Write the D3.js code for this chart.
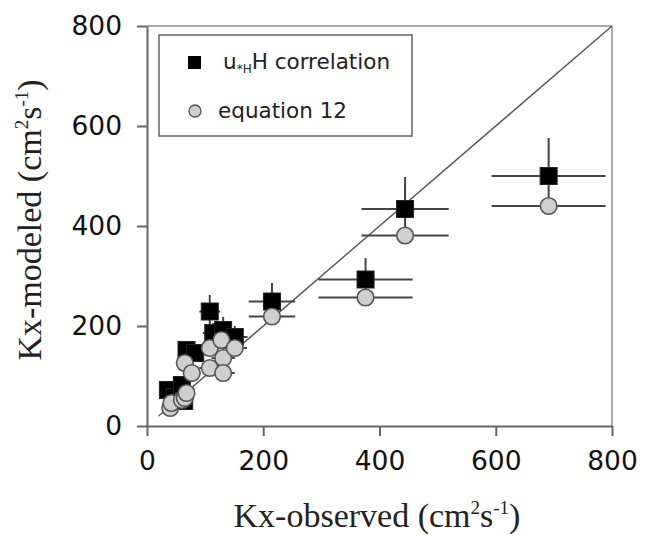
<!DOCTYPE html>
<html>
<head>
<meta charset="utf-8">
<script src="https://cdn.jsdelivr.net/npm/d3@7"></script>
<style>
  body { margin: 0; background: #fff; }
</style>
</head>
<body>
<script>
// ticks
var xTicks = [0, 200, 400, 600, 800]
var yTicks = [0, 200, 400, 600, 800]

// u*H H correlation (squares)
var corrX    = [36, 48, 60, 64, 68, 83, 108, 114, 131, 151, 215, 376, 444, 691]
var corrY    = [72, 58, 82, 50, 152, 146, 229, 186, 192, 178, 249, 293, 434, 500]
var corrXErr = [10, 10, 12, 10, 15, 15, 18, 18, 20, 22, 40, 81, 75, 98]
var corrYErr = [12, 10, 12, 10, 17, 15, 33, 20, 26, 22, 37, 43, 64, 76]

// equation 12 (circles)
var eqX    = [40, 42, 60, 65, 68, 65, 77, 108, 108, 128, 131, 131, 151, 215, 376, 444, 691]
var eqY    = [36, 46, 52, 56, 66, 126, 106, 156, 116, 172, 136, 106, 156, 219, 257, 381, 440]
var eqXErr = [8, 10, 12, 12, 12, 15, 15, 18, 18, 20, 20, 20, 21, 40, 81, 75, 98]

// 1:1 line
var lineX = [20, 800]

var axisColor = '#666'
var barColor = '#444'
var sansFont = '"DejaVu Sans", sans-serif'
var serifFont = '"Liberation Serif", "Times New Roman", serif'

const svg = d3.select('body').append('svg')
    .attr('width', 648)
    .attr('height', 537)

var x = d3.scaleLinear().domain([0, 800]).range([147, 612])
var y = d3.scaleLinear().domain([0, 800]).range([426, 26])

// frame top / right
svg.append('line')
    .attr('x1', x(0)).attr('y1', y(800))
    .attr('x2', x(800)).attr('y2', y(800))
    .attr('stroke', '#aaa').attr('stroke-width', 2)
svg.append('line')
    .attr('x1', x(800)).attr('y1', y(800))
    .attr('x2', x(800)).attr('y2', y(0))
    .attr('stroke', '#aaa').attr('stroke-width', 2)

// axes
var xAxis = svg.append('g')
    .attr('transform', 'translate(0,' + y(0) + ')')
    .call(d3.axisBottom(x).tickValues(xTicks).tickSize(10).tickPadding(15).tickSizeOuter(0))
var yAxis = svg.append('g')
    .attr('transform', 'translate(' + x(0) + ',0)')
    .call(d3.axisLeft(y).tickValues(yTicks).tickSize(10).tickPadding(15).tickSizeOuter(0))

;[xAxis, yAxis].forEach(function (g) {
    g.select('.domain').attr('stroke', axisColor).attr('stroke-width', 2)
    g.selectAll('.tick line').attr('stroke', axisColor).attr('stroke-width', 2)
    g.selectAll('.tick text')
        .attr('fill', '#111')
        .style('font-family', sansFont)
        .style('font-size', '26.5px')
})

// 1:1 line
svg.append('line')
    .attr('x1', x(lineX[0])).attr('y1', y(lineX[0]))
    .attr('x2', x(lineX[1])).attr('y2', y(lineX[1]))
    .attr('stroke', '#555').attr('stroke-width', 1.4)

// error bars
var plot = svg.append('g')

corrX.forEach(function (d, i) {
    plot.append('line')
        .attr('x1', x(d - corrXErr[i])).attr('x2', x(d + corrXErr[i]))
        .attr('y1', y(corrY[i])).attr('y2', y(corrY[i]))
        .attr('stroke', barColor).attr('stroke-width', 2)
    plot.append('line')
        .attr('x1', x(d)).attr('x2', x(d))
        .attr('y1', y(corrY[i] - corrYErr[i])).attr('y2', y(corrY[i] + corrYErr[i]))
        .attr('stroke', barColor).attr('stroke-width', 2)
})
eqX.forEach(function (d, i) {
    plot.append('line')
        .attr('x1', x(d - eqXErr[i])).attr('x2', x(d + eqXErr[i]))
        .attr('y1', y(eqY[i])).attr('y2', y(eqY[i]))
        .attr('stroke', barColor).attr('stroke-width', 2)
})

// markers
var sq = 17
corrX.forEach(function (d, i) {
    plot.append('rect')
        .attr('x', x(d) - sq / 2).attr('y', y(corrY[i]) - sq / 2)
        .attr('width', sq).attr('height', sq)
        .attr('fill', '#000')
        .attr('stroke', '#222').attr('stroke-width', 1)
})
eqX.forEach(function (d, i) {
    plot.append('circle')
        .attr('cx', x(d)).attr('cy', y(eqY[i]))
        .attr('r', 8.3)
        .attr('fill', '#cfcfcf')
        .attr('stroke', '#555').attr('stroke-width', 1.6)
})

// legend
var legend = svg.append('g')
legend.append('rect')
    .attr('x', 159).attr('y', 35)
    .attr('width', 253).attr('height', 101)
    .attr('fill', '#fff')
    .attr('stroke', '#666').attr('stroke-width', 1.5)
legend.append('rect')
    .attr('x', 188).attr('y', 56)
    .attr('width', 13).attr('height', 13)
    .attr('fill', '#000')
legend.append('circle')
    .attr('cx', 195).attr('cy', 111).attr('r', 6)
    .attr('fill', '#cfcfcf').attr('stroke', '#555').attr('stroke-width', 1.3)

var t1 = legend.append('text')
    .attr('x', 223).attr('y', 69)
    .attr('fill', '#222')
    .style('font-family', sansFont)
    .style('font-size', '21.5px')
t1.append('tspan').text('u')
t1.append('tspan').attr('dy', 4).style('font-size', '12px').text('*H')
t1.append('tspan').attr('dy', -4).text('H correlation')

legend.append('text')
    .attr('x', 218).attr('y', 118)
    .attr('fill', '#222')
    .style('font-family', sansFont)
    .style('font-size', '21.5px')
    .text('equation 12')

// axis titles
var xt = svg.append('text')
    .attr('x', 377).attr('y', 527)
    .attr('text-anchor', 'middle')
    .attr('fill', '#222')
    .style('font-family', serifFont)
    .style('font-size', '34px')
xt.append('tspan').text('Kx-observed (cm')
xt.append('tspan').attr('dy', -13).style('font-size', '19px').text('2')
xt.append('tspan').attr('dy', 13).text('s')
xt.append('tspan').attr('dy', -13).style('font-size', '19px').text('-1')
xt.append('tspan').attr('dy', 13).text(')')

var yt = svg.append('text')
    .attr('transform', 'translate(41,220) rotate(-90)')
    .attr('text-anchor', 'middle')
    .attr('fill', '#222')
    .style('font-family', serifFont)
    .style('font-size', '34px')
yt.append('tspan').text('Kx-modeled (cm')
yt.append('tspan').attr('dy', -13).style('font-size', '19px').text('2')
yt.append('tspan').attr('dy', 13).text('s')
yt.append('tspan').attr('dy', -13).style('font-size', '19px').text('-1')
yt.append('tspan').attr('dy', 13).text(')')
</script>
</body>
</html>
